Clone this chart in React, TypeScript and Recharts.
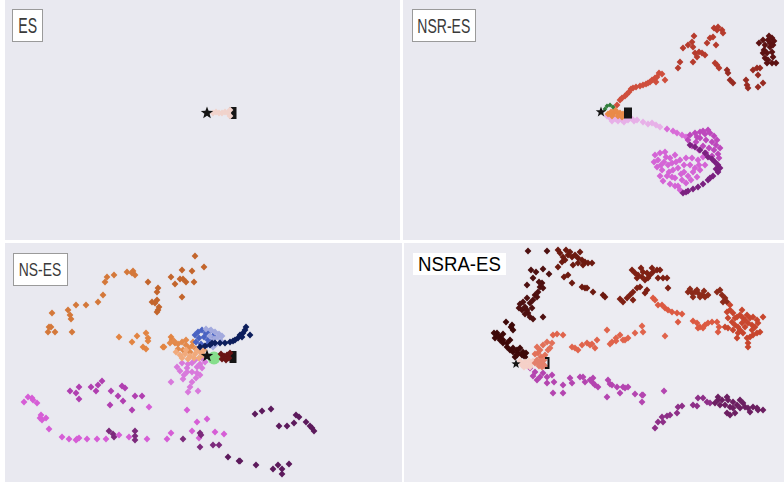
import React from 'react';
import { ScatterChart, Scatter, XAxis, YAxis } from 'recharts';

type Pt = [number, number];

// embedding coordinates (screen-like units, y grows downward)

// ES
const esStart: Pt[] = [[207, 113]];
const esEnd: Pt[] = [[233, 113]];
const esTrail: Pt[] = [[213, 113], [216, 112], [219, 113], [222, 113], [225, 112], [228, 113], [230, 110], [230, 116]];

// NSR-ES
const nsrStart: Pt[] = [[601, 112]];
const nsrEnd: Pt[] = [[628, 113]];
const nsrGreen: Pt[] = [[605, 109], [607, 106], [610, 105], [613, 107]];
const nsrOrange: Pt[] = [[608, 114], [611, 112], [614, 113], [617, 112], [620, 113], [623, 114], [612, 116], [618, 116], [622, 117], [615, 110]];
const nsrPink: Pt[] = [[607, 116], [610, 118], [613, 117], [616, 119], [619, 118], [622, 120], [625, 119], [628, 120], [631, 118], [634, 121], [637, 120], [612, 121], [618, 121], [624, 122], [643, 122], [648, 124], [652, 123], [656, 125], [660, 127]];
const nsrRed1: Pt[] = [[617, 105], [620, 100], [622, 98], [625, 96], [627, 94], [629, 92], [631, 89], [633, 88], [636, 87], [640, 86], [643, 85], [646, 84], [648, 83], [650, 82], [652, 80], [655, 78], [657, 77], [656, 82], [659, 73], [662, 74], [665, 80]];
const nsrRed2: Pt[] = [[678, 68], [680, 62], [683, 48], [688, 45], [692, 42], [694, 36], [693, 47], [693, 62], [695, 53], [697, 57], [699, 52], [702, 53], [705, 55], [707, 43], [710, 38], [713, 37], [714, 28], [717, 30], [718, 27], [722, 30], [723, 33], [716, 45], [715, 63], [717, 65], [719, 68]];
const nsrRed3: Pt[] = [[727, 70], [728, 73], [730, 80], [733, 83], [746, 80], [747, 85], [748, 88], [753, 70], [757, 68], [758, 75], [760, 68], [758, 87], [763, 83]];
const nsrRed4: Pt[] = [[759, 43], [763, 40], [765, 45], [764, 50], [767, 53], [765, 58], [768, 40], [772, 38], [770, 47], [772, 52], [773, 57], [772, 63], [776, 63], [767, 63], [768, 60], [770, 43], [773, 45], [763, 53], [769, 36], [774, 41]];
const nsrMagTrail: Pt[] = [[667, 129], [673, 131], [677, 133], [682, 135], [686, 137]];
const nsrMagLight: Pt[] = [[655, 155], [660, 153], [665, 152], [658, 160], [664, 162], [670, 158], [675, 155], [668, 165], [673, 170], [662, 170], [657, 167], [680, 160], [686, 158], [678, 168], [684, 172], [690, 165], [695, 168], [688, 176], [682, 180], [675, 178], [667, 176], [670, 184], [678, 186], [686, 183], [660, 176], [692, 158], [698, 160], [700, 170], [697, 177], [705, 165], [703, 157], [666, 157], [672, 163], [681, 174], [693, 172], [672, 177], [663, 181], [680, 190], [654, 162], [661, 165], [676, 162], [684, 165], [691, 180], [699, 165], [669, 172], [675, 186]];
const nsrMagMid: Pt[] = [[690, 135], [695, 133], [700, 132], [705, 134], [710, 133], [714, 136], [717, 140], [700, 138], [706, 140], [712, 142], [696, 142], [703, 146], [709, 148], [714, 150], [718, 154], [692, 146], [699, 150], [706, 153], [712, 156], [688, 140], [708, 130], [716, 145], [720, 148], [697, 137], [703, 131], [719, 158]];
const nsrPurple: Pt[] = [[690, 145], [695, 147], [700, 150], [705, 153], [708, 157], [712, 159], [715, 162], [718, 165], [720, 168], [718, 172], [713, 176], [708, 180], [703, 184], [698, 187], [693, 189], [688, 191], [683, 193], [686, 192], [710, 178], [716, 169]];

// NS-ES
const nsStart: Pt[] = [[207, 356]];
const nsEnd: Pt[] = [[233, 357]];
const nsGreen: Pt[] = [[214, 358]];
const nsDarkRed: Pt[] = [[221, 354], [224, 356], [227, 355], [222, 359], [226, 360], [229, 358], [230, 353]];
const nsOrangeDark: Pt[] = [[195, 256], [204, 267], [182, 270], [192, 271], [171, 277], [180, 279], [183, 279], [186, 282], [194, 282], [175, 284], [182, 297], [158, 288], [157, 292], [157, 300], [148, 282], [152, 302], [155, 303], [159, 307], [158, 310], [157, 312]];
const nsOrangeLeft: Pt[] = [[127, 272], [133, 271], [135, 275], [132, 273], [114, 275], [107, 277], [105, 282], [103, 295], [98, 302], [86, 305], [76, 305], [68, 310], [70, 315], [71, 319], [52, 313], [49, 327], [48, 332], [55, 332], [51, 327], [72, 332]];
const nsOrangeMid: Pt[] = [[119, 337], [132, 342], [137, 336], [146, 333], [148, 338], [148, 341], [143, 347], [146, 349], [163, 347], [164, 347], [171, 337], [175, 343], [172, 340]];
const nsOrangeBlob: Pt[] = [[170, 343], [174, 341], [178, 344], [182, 342], [186, 345], [178, 349], [183, 350], [188, 348], [192, 346], [196, 349], [190, 352], [186, 340], [193, 342]];
const nsPeach: Pt[] = [[176, 352], [180, 355], [185, 354], [190, 356], [195, 354], [200, 352], [203, 355], [182, 358], [188, 359], [194, 358], [199, 358], [204, 350], [197, 350], [186, 350]];
const nsBlue: Pt[] = [[195, 335], [198, 332], [202, 330], [206, 333], [210, 331], [199, 338], [204, 337], [208, 340], [213, 336], [196, 342], [201, 344], [207, 345]];
const nsLav: Pt[] = [[206, 329], [211, 330], [215, 332], [219, 334], [214, 339], [218, 337], [222, 336], [210, 336], [216, 344], [221, 341], [213, 347]];
const nsNavy: Pt[] = [[200, 347], [205, 346], [210, 345], [215, 343], [220, 343], [225, 343], [230, 342], [235, 340], [238, 338], [240, 335], [243, 333], [242, 337], [245, 330], [246, 327], [250, 335], [233, 341], [212, 343]];
const nsMagCenter: Pt[] = [[177, 367], [182, 363], [187, 368], [192, 363], [197, 367], [200, 375], [197, 373], [192, 372], [187, 372], [171, 382], [183, 379], [192, 382], [190, 387], [188, 392], [198, 391], [180, 371], [184, 375], [196, 378], [202, 368], [205, 362], [200, 364], [188, 364], [195, 360], [202, 358]];
const nsMagLight: Pt[] = [[24, 402], [28, 397], [32, 398], [33, 400], [37, 403], [40, 418], [42, 420], [46, 418], [49, 429], [62, 437], [69, 439], [76, 440], [79, 438], [87, 439], [97, 439], [106, 439], [119, 435], [129, 437], [147, 439], [167, 439], [171, 433], [192, 431], [197, 422], [207, 419], [187, 410], [215, 432], [224, 434], [199, 438], [149, 407], [41, 415], [77, 439]];
const nsPurple: Pt[] = [[70, 391], [76, 393], [79, 387], [79, 399], [91, 387], [96, 391], [98, 385], [102, 381], [111, 391], [118, 396], [122, 386], [125, 388], [123, 401], [110, 405], [135, 396], [142, 396], [132, 410]];
const nsPurpleDark: Pt[] = [[109, 431], [114, 437], [113, 434], [135, 431], [135, 440], [135, 436], [183, 439], [201, 435], [200, 447], [213, 445], [219, 445], [200, 433]];
const nsPurpleDeep: Pt[] = [[228, 457], [239, 461], [240, 461], [256, 465], [273, 469], [278, 465], [282, 469], [282, 474], [289, 464], [255, 414], [262, 411], [271, 409], [279, 426], [287, 426], [294, 423], [296, 415], [299, 417], [306, 422], [310, 426], [312, 428], [314, 431]];

// NSRA-ES
const nsraStart: Pt[] = [[516, 364]];
const nsraEnd: Pt[] = [[547, 363]];
const nsraBarLight: Pt[] = [[520, 361], [522, 365], [525, 362], [527, 366], [529, 361], [531, 364], [533, 361], [524, 367], [530, 367]];
const nsraBarDark: Pt[] = [[535, 363], [537, 360], [539, 366], [541, 361], [543, 364], [544, 360], [545, 366], [538, 363], [542, 367]];
const nsraMaroon: Pt[] = [[515, 357], [518, 353], [522, 355], [525, 357], [517, 350], [520, 348], [513, 348], [510, 340], [507, 343], [500, 337], [497, 333], [495, 338], [503, 340], [506, 322], [512, 325], [513, 330], [523, 352], [526, 353], [498, 336], [500, 340], [503, 343], [507, 347], [510, 350], [513, 352], [517, 355], [511, 327], [503, 334], [494, 333]];
const nsraBrown: Pt[] = [[519, 308], [522, 310], [525, 307], [527, 310], [528, 313], [530, 317], [532, 308], [523, 302], [527, 298], [530, 303], [533, 300], [535, 295], [537, 297], [538, 292], [540, 287], [542, 283], [543, 288], [539, 282], [527, 285], [533, 278], [531, 270], [536, 272], [543, 269], [547, 251], [528, 251], [549, 274], [543, 317], [533, 319], [525, 314], [520, 304]];
const nsraDarkRed: Pt[] = [[558, 250], [560, 253], [563, 257], [562, 262], [558, 267], [565, 260], [568, 255], [572, 257], [575, 255], [578, 258], [582, 260], [585, 262], [588, 263], [592, 263], [578, 263], [583, 265], [570, 252], [573, 265], [564, 277], [568, 275], [572, 283], [582, 287], [585, 288], [587, 288], [593, 292], [603, 295], [605, 297], [566, 250], [580, 252]];
const nsraRed: Pt[] = [[632, 270], [635, 273], [638, 275], [642, 277], [643, 272], [647, 273], [650, 275], [653, 272], [657, 270], [660, 270], [663, 278], [667, 278], [637, 278], [645, 280], [648, 278], [658, 278], [640, 287], [637, 288], [633, 292], [630, 295], [627, 298], [623, 302], [620, 299], [633, 300], [647, 290], [645, 293], [668, 288], [641, 268], [652, 268]];
const nsraRed2: Pt[] = [[688, 292], [692, 293], [695, 292], [698, 293], [702, 295], [705, 297], [708, 295], [693, 297], [700, 297], [697, 290], [717, 292], [720, 290], [722, 295], [725, 298], [727, 302], [723, 302], [690, 289], [704, 291]];
const nsraOrangeRed: Pt[] = [[727, 312], [730, 310], [733, 313], [737, 317], [740, 315], [743, 318], [747, 315], [750, 318], [753, 317], [757, 320], [763, 317], [728, 318], [732, 322], [735, 325], [738, 327], [742, 323], [745, 327], [748, 323], [752, 325], [755, 327], [758, 323], [760, 332], [757, 333], [753, 335], [750, 337], [747, 338], [748, 343], [748, 347], [743, 333], [738, 333], [737, 338], [733, 330], [728, 328], [725, 327], [745, 320], [740, 330], [752, 330], [735, 318], [730, 305], [742, 310]];
const nsraSalmonUp: Pt[] = [[653, 298], [655, 300], [658, 305], [662, 305], [665, 308], [668, 310], [672, 312], [677, 313], [682, 314], [678, 322], [693, 321], [697, 323], [700, 327], [705, 325], [708, 323], [712, 322], [717, 322], [719, 327], [718, 332], [703, 328], [698, 328]];
const nsraSalmonMid: Pt[] = [[553, 335], [557, 334], [563, 335], [572, 347], [575, 348], [578, 350], [582, 345], [587, 343], [590, 345], [597, 340], [607, 330], [612, 342], [616, 338], [620, 335], [625, 340], [628, 338], [635, 333], [642, 326], [643, 332], [665, 336], [592, 344], [595, 348], [610, 344], [616, 341], [623, 340]];
const nsraSalmonNear: Pt[] = [[537, 347], [540, 350], [543, 345], [547, 342], [552, 343], [550, 348], [538, 353], [545, 355], [541, 357], [548, 350], [535, 354]];
const nsraMagenta: Pt[] = [[530, 368], [535, 372], [537, 380], [540, 377], [543, 373], [547, 377], [552, 375], [554, 382], [547, 383], [553, 393], [563, 393], [563, 385], [570, 378], [572, 383], [580, 377], [583, 377], [585, 382], [590, 380], [593, 383], [598, 387], [608, 380], [610, 384], [617, 387], [623, 387], [628, 387], [607, 397], [635, 394], [642, 395], [642, 402], [664, 391], [593, 378], [595, 385], [612, 385], [620, 393], [625, 388], [643, 395], [533, 376]];
const nsraPurple: Pt[] = [[655, 428], [658, 422], [663, 422], [662, 417], [667, 416], [670, 415], [677, 413], [678, 407], [682, 406], [693, 405], [697, 406], [698, 398], [703, 398], [707, 402], [710, 403]];
const nsraPurpleDark: Pt[] = [[715, 403], [718, 397], [718, 400], [722, 400], [727, 397], [728, 400], [730, 407], [733, 408], [737, 405], [740, 408], [743, 403], [745, 407], [748, 408], [753, 407], [757, 408], [758, 410], [763, 410], [727, 413], [730, 415], [735, 413], [720, 405], [725, 405], [733, 402], [750, 412], [740, 400]];

const diamond = (r: number) => (p: any) => {
  const { cx, cy, fill } = p;
  if (cx == null || cy == null) return <g />;
  return <path d={`M${cx},${cy - r}L${cx + r},${cy}L${cx},${cy + r}L${cx - r},${cy}Z`} fill={fill} />;
};

const star = (r: number) => (p: any) => {
  const { cx, cy } = p;
  if (cx == null || cy == null) return <g />;
  let d = '';
  for (let i = 0; i < 10; i++) {
    const rr = i % 2 === 0 ? r : r * 0.42;
    const a = -Math.PI / 2 + (i * Math.PI) / 5;
    d += (i ? 'L' : 'M') + (cx + rr * Math.cos(a)).toFixed(2) + ',' + (cy + rr * Math.sin(a)).toFixed(2);
  }
  return <path d={d + 'Z'} fill="#151515" />;
};

const square = (w: number, h: number) => (p: any) => {
  const { cx, cy } = p;
  if (cx == null || cy == null) return <g />;
  return <rect x={cx - w / 2} y={cy - h / 2} width={w} height={h} fill="#151515" />;
};

const circle = (r: number) => (p: any) => {
  const { cx, cy, fill } = p;
  if (cx == null || cy == null) return <g />;
  return <circle cx={cx} cy={cy} r={r} fill={fill} />;
};

const bracket = (p: any) => {
  const { cx, cy } = p;
  if (cx == null || cy == null) return <g />;
  return <path d={`M${cx - 2},${cy - 5}H${cx + 1.5}V${cy + 5}H${cx - 2}`} stroke="#111" strokeWidth={2} fill="none" />;
};

interface Series { pts: Pt[]; color: string; shape?: any }

const dot = diamond(3.4);

const esSeries: Series[] = [
  { pts: esEnd, color: '#151515', shape: square(7, 12) },
  { pts: esTrail, color: '#f1d3cc' },
  { pts: esStart, color: '#151515', shape: star(6.5) },
];

const nsrSeries: Series[] = [
  { pts: nsrRed1, color: '#cf4f3d' },
  { pts: nsrRed2, color: '#b63b2d' },
  { pts: nsrRed3, color: '#982b22' },
  { pts: nsrRed4, color: '#5c1212' },
  { pts: nsrMagTrail, color: '#d86cd8' },
  { pts: nsrMagLight, color: '#d464d6' },
  { pts: nsrMagMid, color: '#bd48bd' },
  { pts: nsrPurple, color: '#7b2180' },
  { pts: nsrPink, color: '#e7b0e8' },
  { pts: nsrOrange, color: '#e98a4a' },
  { pts: nsrEnd, color: '#151515', shape: square(8, 11) },
  { pts: nsrGreen, color: '#2f7d3a', shape: diamond(2.4) },
  { pts: nsrStart, color: '#151515', shape: star(5.5) },
];

const nsSeries: Series[] = [
  { pts: nsOrangeDark, color: '#c3652c' },
  { pts: nsOrangeLeft, color: '#d4783a' },
  { pts: nsOrangeMid, color: '#e28442' },
  { pts: nsMagLight, color: '#d65ed6' },
  { pts: nsPurple, color: '#b03fb0' },
  { pts: nsPurpleDark, color: '#7c2a7c' },
  { pts: nsPurpleDeep, color: '#5c1a5c' },
  { pts: nsMagCenter, color: '#d879dc' },
  { pts: nsOrangeBlob, color: '#e38a4c' },
  { pts: nsPeach, color: '#f1aa7c' },
  { pts: nsBlue, color: '#4a63c2' },
  { pts: nsLav, color: '#a3aade' },
  { pts: nsNavy, color: '#0d1e5c' },
  { pts: nsGreen, color: '#86de8c', shape: circle(6.5) },
  { pts: nsEnd, color: '#151515', shape: square(7, 12) },
  { pts: nsDarkRed, color: '#6a1414' },
  { pts: nsStart, color: '#151515', shape: star(6.5) },
];

const nsraSeries: Series[] = [
  { pts: nsraDarkRed, color: '#6c1a10' },
  { pts: nsraBrown, color: '#4e1010' },
  { pts: nsraMaroon, color: '#3e0909' },
  { pts: nsraRed, color: '#7e2014' },
  { pts: nsraRed2, color: '#8c2a1a' },
  { pts: nsraOrangeRed, color: '#c8462e' },
  { pts: nsraSalmonUp, color: '#dc5a42' },
  { pts: nsraSalmonMid, color: '#e0644c' },
  { pts: nsraSalmonNear, color: '#e2715a' },
  { pts: nsraMagenta, color: '#b445b0' },
  { pts: nsraPurple, color: '#8e2f88' },
  { pts: nsraPurpleDark, color: '#6c1f62' },
  { pts: nsraBarLight, color: '#f5d0c8' },
  { pts: nsraBarDark, color: '#e3806c' },
  { pts: nsraEnd, color: '#111', shape: bracket },
  { pts: nsraStart, color: '#151515', shape: star(4.8) },
];

interface PanelProps {
  left: number; top: number; width: number; height: number; bg: string;
  series: Series[];
}

function Panel({ left, top, width, height, bg, series }: PanelProps) {
  return (
    <div style={{ position: 'absolute', left, top, width, height, background: bg }}>
      <ScatterChart width={width} height={height} margin={{ top: 0, right: 0, bottom: 0, left: 0 }}>
        <XAxis type="number" dataKey="x" hide domain={[left, left + width]} allowDataOverflow />
        <YAxis type="number" dataKey="y" hide domain={[top, top + height]} reversed allowDataOverflow />
        {series.map((s, i) => (
          <Scatter
            key={i}
            data={s.pts.map(([x, y]) => ({ x, y }))}
            fill={s.color}
            shape={s.shape || dot}
            isAnimationActive={false}
          />
        ))}
      </ScatterChart>
    </div>
  );
}

function Label({ text, left, top, width, height, size, squeeze, border, color }: any) {
  return (
    <div style={{
      position: 'absolute', left, top, width, height, boxSizing: 'border-box',
      background: '#fff', border: border ? '1px solid #9a9a9a' : 'none',
      display: 'flex', alignItems: 'center', justifyContent: 'center', zIndex: 2,
    }}>
      <span style={{
        display: 'inline-block', whiteSpace: 'nowrap', fontFamily: '"Liberation Sans", Arial, sans-serif',
        fontSize: size, color, transform: `scaleX(${squeeze})`, transformOrigin: 'center', lineHeight: 1,
      }}>{text}</span>
    </div>
  );
}

export default function App() {
  return (
    <div style={{ position: 'absolute', left: 0, top: 0, width: 784, height: 482, background: '#fff', overflow: 'hidden' }}>
      <Panel left={5} top={0} width={395} height={240} bg="#e9e9f0" series={esSeries} />
      <Panel left={403} top={0} width={381} height={240} bg="#e9e9f0" series={nsrSeries} />
      <Panel left={5} top={243} width={397} height={239} bg="#e9e9f0" series={nsSeries} />
      <Panel left={404} top={243} width={380} height={239} bg="#ececf2" series={nsraSeries} />
      <Label text="ES" left={12} top={9} width={31} height={33} size={22} squeeze={0.64} border color="#3a3a3a" />
      <Label text="NSR-ES" left={412} top={9} width={64} height={33} size={20} squeeze={0.7} border color="#3a3a3a" />
      <Label text="NS-ES" left={13} top={253} width={55} height={33} size={19} squeeze={0.73} border color="#3a3a3a" />
      <Label text="NSRA-ES" left={413} top={253} width={93} height={22} size={20} squeeze={0.93} color="#000" />
    </div>
  );
}
